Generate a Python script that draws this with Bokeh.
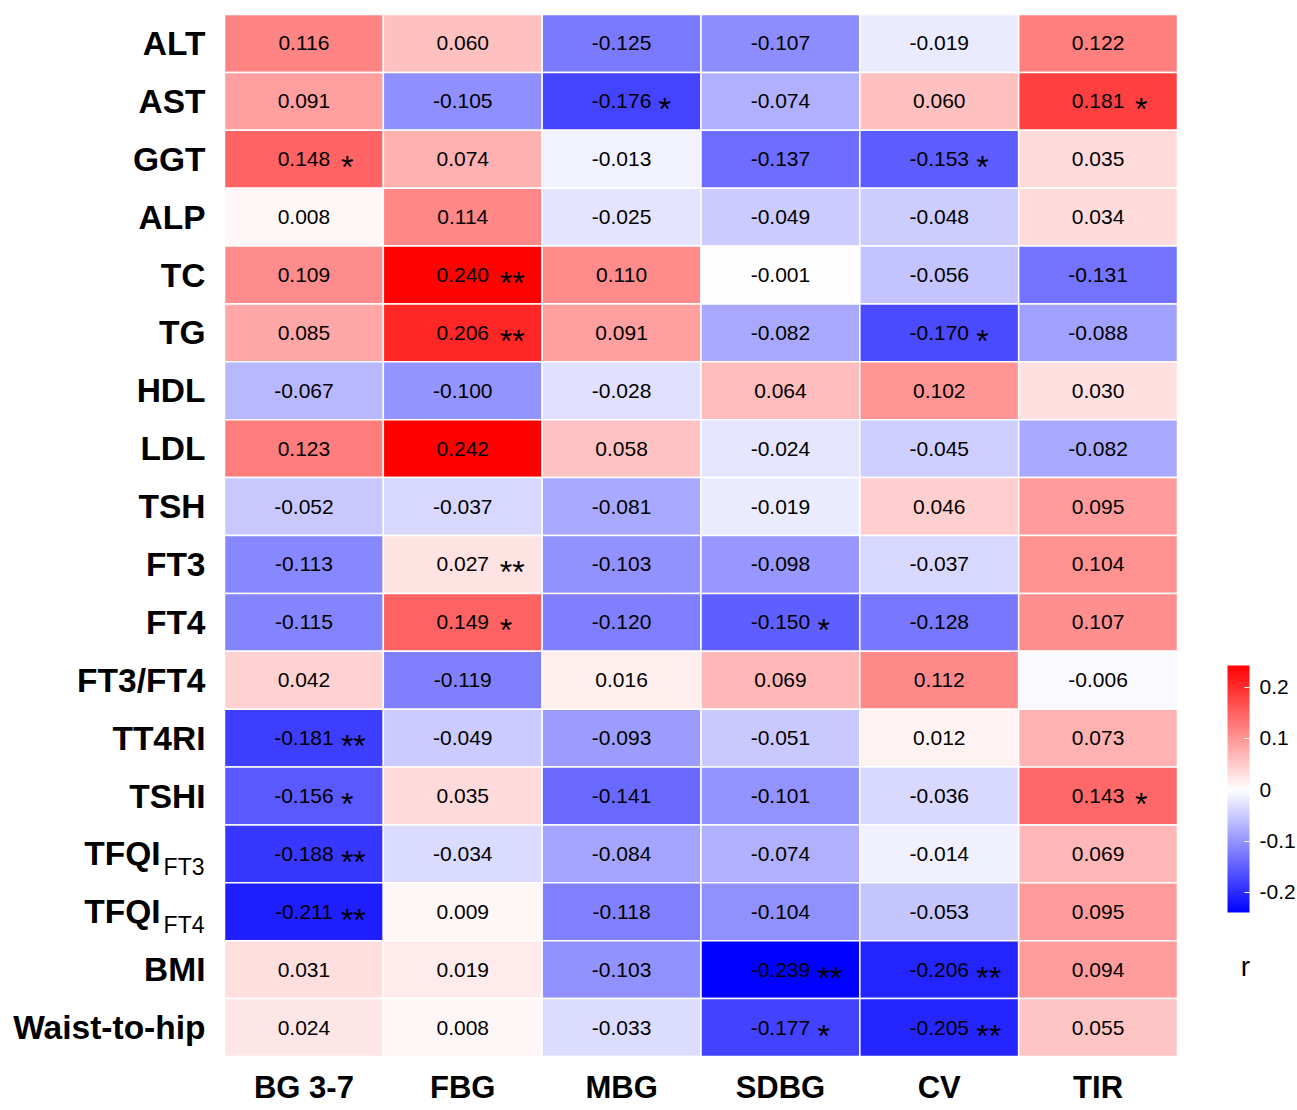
import numpy as np
from bokeh.plotting import figure
from bokeh.models import (ColumnDataSource, LinearColorMapper, ColorBar, FixedTicker,
                          Range1d, Label)
from bokeh.transform import transform
from bokeh.core.properties import value
from bokeh.embed import file_html
from bokeh.resources import INLINE

columns = ["BG 3-7", "FBG", "MBG", "SDBG", "CV", "TIR"]
rows = ["ALT", "AST", "GGT", "ALP", "TC", "TG", "HDL", "LDL", "TSH", "FT3", "FT4",
        "FT3/FT4", "TT4RI", "TSHI", "TFQI_FT3", "TFQI_FT4", "BMI", "Waist-to-hip"]

bg37 = [0.116, 0.091, 0.148, 0.008, 0.109, 0.085, -0.067, 0.123, -0.052, -0.113, -0.115,
        0.042, -0.181, -0.156, -0.188, -0.211, 0.031, 0.024]
fbg = [0.060, -0.105, 0.074, 0.114, 0.240, 0.206, -0.100, 0.242, -0.037, 0.027, 0.149,
       -0.119, -0.049, 0.035, -0.034, 0.009, 0.019, 0.008]
mbg = [-0.125, -0.176, -0.013, -0.025, 0.110, 0.091, -0.028, 0.058, -0.081, -0.103, -0.120,
       0.016, -0.093, -0.141, -0.084, -0.118, -0.103, -0.033]
sdbg = [-0.107, -0.074, -0.137, -0.049, -0.001, -0.082, 0.064, -0.024, -0.019, -0.098, -0.150,
        0.069, -0.051, -0.101, -0.074, -0.104, -0.239, -0.177]
cv = [-0.019, 0.060, -0.153, -0.048, -0.056, -0.170, 0.102, -0.045, 0.046, -0.037, -0.128,
      0.112, 0.012, -0.036, -0.014, -0.053, -0.206, -0.205]
tir = [0.122, 0.181, 0.035, 0.034, -0.131, -0.088, 0.030, -0.082, 0.095, 0.104, 0.107,
       -0.006, 0.073, 0.143, 0.069, 0.095, 0.094, 0.055]

bg37_sig = ["", "", "*", "", "", "", "", "", "", "", "", "", "**", "*", "**", "**", "", ""]
fbg_sig = ["", "", "", "", "**", "**", "", "", "", "**", "*", "", "", "", "", "", "", ""]
mbg_sig = ["", "*", "", "", "", "", "", "", "", "", "", "", "", "", "", "", "", ""]
sdbg_sig = ["", "", "", "", "", "", "", "", "", "", "*", "", "", "", "", "", "**", "*"]
cv_sig = ["", "", "*", "", "", "*", "", "", "", "", "", "", "", "", "", "", "**", "**"]
tir_sig = ["", "*", "", "", "", "", "", "", "", "", "", "", "", "*", "", "", "", ""]

cb_ticks = [-0.2, -0.1, 0, 0.1, 0.2]
cb_tick_labels = ["-0.2", "-0.1", "0", "0.1", "0.2"]

col_values = [bg37, fbg, mbg, sdbg, cv, tir]
col_sigs = [bg37_sig, fbg_sig, mbg_sig, sdbg_sig, cv_sig, tir_sig]

FONT = "Liberation Sans"

# canvas / layout geometry (pixels)
W, H = 1297, 1108
LEFT, RIGHT, TOP, BOTTOM = 224, 1177, 14, 1056
ncol, nrow = len(columns), len(rows)
cw = (RIGHT - LEFT) / ncol
ch = (BOTTOM - TOP) / nrow

xs, ys, vals, labels, sigs = [], [], [], [], []
for ci, (cvals, csig) in enumerate(zip(col_values, col_sigs)):
    for ri in range(nrow):
        xs.append(ci + 0.5)
        ys.append(nrow - ri - 0.5)
        vals.append(cvals[ri])
        labels.append("%.3f" % cvals[ri])
        sigs.append(csig[ri])

src = ColumnDataSource(dict(x=xs, y=ys, v=vals, lab=labels, sig=sigs))

vmin, vmax = min(vals), max(vals)
n = 512
palette = []
for k in range(n):
    v = vmin + (k + 0.5) * (vmax - vmin) / n
    if v >= 0:
        t = min(v / vmax, 1.0)
        c = (255, round(255 * (1 - t)), round(255 * (1 - t)))
    else:
        t = min(-v / (-vmin), 1.0)
        c = (round(255 * (1 - t)), round(255 * (1 - t)), 255)
    palette.append("#%02x%02x%02x" % c)

mapper = LinearColorMapper(palette=palette, low=vmin, high=vmax)

p = figure(width=W, height=H, output_backend="svg", toolbar_location=None,
           x_range=Range1d(-LEFT / cw, (W - LEFT) / cw),
           y_range=Range1d(-(H - BOTTOM) / ch, nrow + TOP / ch),
           x_axis_location=None, y_axis_location=None,
           min_border=0, min_border_left=0, min_border_right=0,
           min_border_top=0, min_border_bottom=0)
p.outline_line_color = None
p.grid.visible = False
p.background_fill_color = "white"
p.border_fill_color = "white"

p.rect(x="x", y="y", width=1, height=1, source=src,
       fill_color=transform("v", mapper), line_color="white", line_width=1.5)

p.text(x="x", y="y", text="lab", source=src, text_align="center", text_baseline="middle",
       text_font=value(FONT), text_font_size="21px", text_color="black")
p.text(x="x", y="y", text="sig", source=src, text_align="left", text_baseline="middle",
       x_offset=37, y_offset=8, text_font=value(FONT), text_font_size="32px",
       text_color="black")

# row labels
main_lab, sub_main, sub_lab, sub_y = [], [], [], []
row_y = [nrow - i - 0.5 for i in range(nrow)]
for i, r in enumerate(rows):
    if r.startswith("TFQI_"):
        main_lab.append("")
        sub_main.append("TFQI")
        sub_lab.append(r.split("_")[1])
        sub_y.append(row_y[i])
    else:
        main_lab.append(r)
rsrc = ColumnDataSource(dict(x=[0] * nrow, y=row_y, t=main_lab))
p.text(x="x", y="y", text="t", source=rsrc, text_align="right", text_baseline="middle",
       x_offset=-19, text_font=value(FONT), text_font_style="bold", text_font_size="33.5px",
       text_color="black")
ssrc = ColumnDataSource(dict(x=[0] * len(sub_y), y=sub_y, m=sub_main, s=sub_lab))
p.text(x="x", y="y", text="m", source=ssrc, text_align="right", text_baseline="middle",
       x_offset=-64, text_font=value(FONT), text_font_style="bold", text_font_size="33.5px",
       text_color="black")
p.text(x="x", y="y", text="s", source=ssrc, text_align="right", text_baseline="middle",
       x_offset=-20, y_offset=13, text_font=value(FONT), text_font_size="23px",
       text_color="black")

# column labels
csrc = ColumnDataSource(dict(x=[i + 0.5 for i in range(ncol)], y=[0] * ncol, t=columns))
p.text(x="x", y="y", text="t", source=csrc, text_align="center", text_baseline="middle",
       y_offset=H - BOTTOM - 21, text_font=value(FONT), text_font_style="bold",
       text_font_size="31px", text_color="black")

cb = ColorBar(color_mapper=mapper, location=(1227, H - 912), width=22, height=247, padding=0,
              ticker=FixedTicker(ticks=cb_ticks),
              major_label_overrides=dict(zip(cb_ticks, cb_tick_labels)),
              major_label_text_font=FONT, major_label_text_font_size="21px",
              major_label_text_color="black", label_standoff=10,
              major_tick_line_color="white", major_tick_in=5, major_tick_out=0,
              minor_tick_line_color=None, bar_line_color=None, border_line_color=None,
              background_fill_color=None)
p.add_layout(cb, "center")
p.add_layout(Label(x=1245, y=H - 966, x_units="screen", y_units="screen", text="r",
                   text_align="center", text_baseline="alphabetic", text_font=FONT,
                   text_font_size="28px", text_color="black"))

open("out.html", "w").write(file_html(p, INLINE))
